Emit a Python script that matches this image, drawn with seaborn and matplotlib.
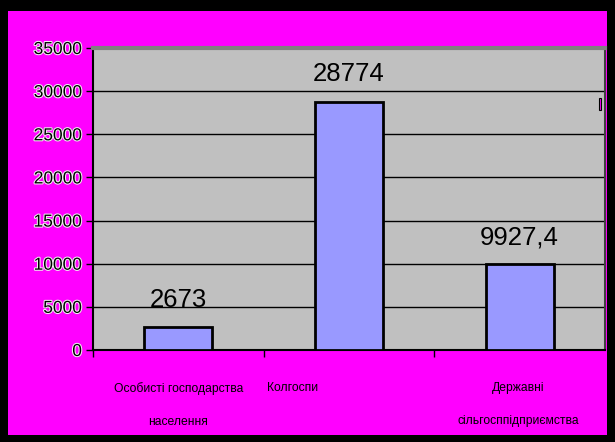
import matplotlib
matplotlib.use('Agg')
import matplotlib.pyplot as plt
import matplotlib.patheffects as pe
from matplotlib.patches import Rectangle
import seaborn as sns
import pandas as pd

categories = ["Особисті господарства\n\nнаселення", "Колгоспи", "Державні\n\nсільгосппідприємства"]
values = [2673, 28774, 9927.4]
value_labels = ["2673", "28774", "9927,4"]
yticks = [0, 5000, 10000, 15000, 20000, 25000, 30000, 35000]

sns.set_style("white")
plt.rcParams['font.family'] = ['Liberation Sans', 'DejaVu Sans']

fig = plt.figure(figsize=(6.15, 4.42), dpi=100, facecolor='black')
# magenta chart area
fig.patches.append(Rectangle((8 / 615, 1 - 435 / 442), 599 / 615, 424 / 442,
                             transform=fig.transFigure, facecolor='#FF00FF',
                             edgecolor='none', zorder=-1))
ax = fig.add_axes([93 / 615, 1 - 350 / 442, 512 / 615, 302 / 442])
ax.set_zorder(2)
ax.set_facecolor('#C0C0C0')

df = pd.DataFrame({"cat": categories, "val": values})
sns.barplot(data=df, x="cat", y="val", color='#9999FF', saturation=1,
            edgecolor='black', linewidth=2, width=0.4, ax=ax, zorder=3)

ax.set_xlim(-0.5, 2.5)
ax.set_ylim(0, 35000)
ax.set_yticks(yticks)
ax.set_yticklabels([str(t) for t in yticks], fontsize=12.5, color='black',
                   path_effects=[pe.withStroke(linewidth=1.5, foreground='#EEEEEE')])
for t in yticks[1:-1]:
    ax.axhline(t, color='black', lw=1, zorder=1)

ax.set_xticks([-0.5, 0.5, 1.5])
ax.set_xticklabels([])
ax.tick_params(axis='x', direction='out', length=5, width=1, color='black', bottom=True)
ax.tick_params(axis='y', direction='out', length=5, width=1, color='black', left=True, pad=3)
ax.set_xlabel('')
ax.set_ylabel('')

for s in ['left', 'bottom']:
    ax.spines[s].set_color('black')
    ax.spines[s].set_linewidth(1.5)
ax.spines['top'].set_color('#808080')
ax.spines['top'].set_linewidth(3)
ax.spines['right'].set_color('#404040')
ax.spines['right'].set_linewidth(1.5)

for i, (v, lab) in enumerate(zip(values, value_labels)):
    ax.annotate(lab, (i, v), xytext=(0, 11), textcoords='offset points',
                ha='center', va='bottom', fontsize=18.5, color='black', zorder=5)

# category labels (second label sits left of its bar, as in the original)
label_x = [0.0, 1 - 0.33, 1.99]
cat_font = ['Liberation Sans Narrow', 'Liberation Sans', 'DejaVu Sans']
for x, lab in zip(label_x, categories):
    ax.text(x, -0.105, lab, transform=ax.get_xaxis_transform(), ha='center', va='top',
            fontsize=8.7, color='black', family=cat_font, linespacing=1.5)

# small marker at the right edge
ax.add_patch(Rectangle((0.9885, 0.795), 0.004, 0.04, transform=ax.transAxes,
                       facecolor='#FF00FF', edgecolor='black', lw=0.8, zorder=6))

fig.savefig('out.png', dpi=100, facecolor=fig.get_facecolor())
